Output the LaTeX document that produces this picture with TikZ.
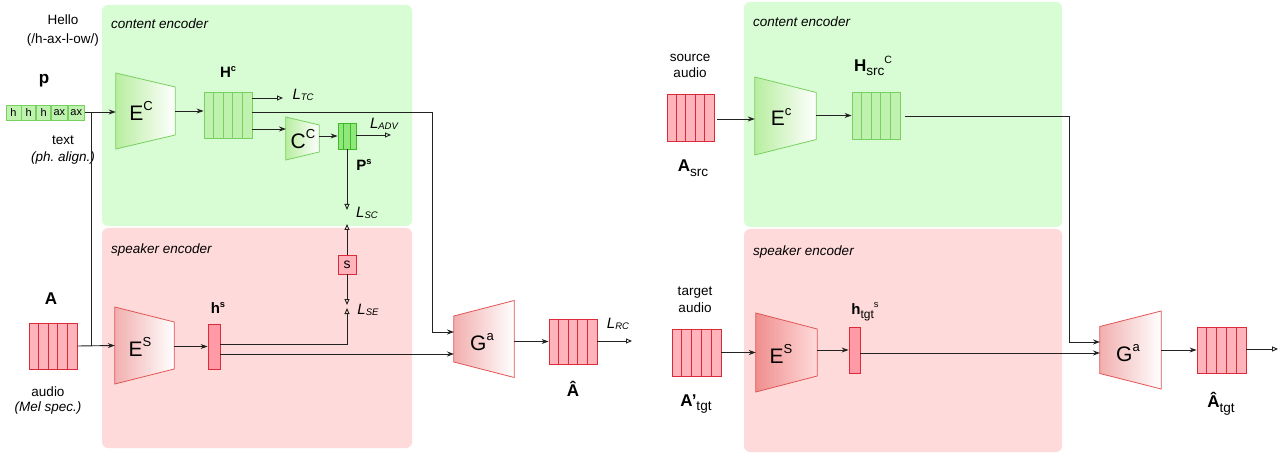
\documentclass[tikz,border=0pt]{standalone}
\usepackage{fontspec}
\setmainfont{Liberation Sans}
\usetikzlibrary{arrows.meta,calc}
\definecolor{gbg}{HTML}{D8FCD4}
\definecolor{pbg}{HTML}{FFDADA}
\definecolor{gfill}{HTML}{BFF2AE}
\definecolor{gline}{HTML}{78D060}
\definecolor{gfill2}{HTML}{8FE87A}
\definecolor{gline2}{HTML}{3FB82A}
\definecolor{gtrap}{HTML}{B8EEA0}
\definecolor{pfill}{HTML}{FFB3BB}
\definecolor{pfill2}{HTML}{FF9AA6}
\definecolor{pline}{HTML}{DD2A3A}
\definecolor{ptrap}{HTML}{F2AFAF}
\definecolor{ptrap2}{HTML}{F08E8E}
\definecolor{ptline}{HTML}{E05555}
\definecolor{lnc}{HTML}{222222}
\newcommand\mysup[1]{\raisebox{0.45em}{\scalebox{0.62}{#1}}}
\newcommand\mysub[1]{\raisebox{-0.28em}{\scalebox{0.8}{#1}}}
\newcommand\Lss[1]{\textit{L}{\fontsize{9.5}{10}\selectfont\itshape\raisebox{-1.5pt}{#1}}}
\newcommand\seqbox[7]{%
  \node[#7, minimum width=#4pt, minimum height=#5pt] (#1) at (#2,#3) {};
  \pgfmathtruncatemacro\nm{#6-1}%
  \foreach \i in {1,...,\nm}{\draw[#7, fill=none] ($(#1.north west)!\i/#6!(#1.north east)$) -- ($(#1.south west)!\i/#6!(#1.south east)$);}%
}
\newcommand\trap[9]{%
  \pgfmathsetmacro\hh{max(#5,#6)}%
  \node[minimum width=#4pt, minimum height=\hh pt] (#1) at (#2,#3) {};
  \shadedraw[left color=#7, right color=#8, draw=#9, line width=0.8pt] ($(#1.west)+(0,#5/2)$) -- ($(#1.east)+(0,#6/2)$) -- ($(#1.east)+(0,-#6/2)$) -- ($(#1.west)+(0,-#5/2)$) -- cycle;
}
\begin{document}
\begin{tikzpicture}[x=1pt,y=-1pt,
  every node/.style={inner sep=0pt, font=\fontsize{13.5}{15}\selectfont},
  ln/.style={draw=lnc, line width=0.9pt},
  arr/.style={ln, -{Stealth[length=7pt,width=5pt]}},
  oarr/.style={ln, -{Triangle[open,length=6pt,width=5pt]}},
  gbox/.style={draw=gline, fill=gfill, line width=0.8pt},
  gbox2/.style={draw=gline2, fill=gfill2, line width=0.8pt},
  pbox/.style={draw=pline, fill=pfill, line width=0.8pt},
  pbox2/.style={draw=pline, fill=pfill2, line width=0.8pt},
  ph/.style={gbox, minimum height=15pt, font=\fontsize{11}{12}\selectfont},
  big/.style={font=\bfseries\fontsize{17}{20}\selectfont},
  mid/.style={font=\bfseries\fontsize{15}{18}\selectfont},
  tl/.style={font=\fontsize{21}{23}\selectfont},
  rlab/.style={font=\itshape\fontsize{13.5}{15}\selectfont, anchor=west},
  loss/.style={font=\fontsize{15}{17}\selectfont}
]
\useasboundingbox (0,0) rectangle (1284,454);
% regions
\fill[gbg, rounded corners=6pt] (102,5) rectangle (412,226);
\fill[pbg, rounded corners=6pt] (102,228) rectangle (412,448);
\fill[gbg, rounded corners=6pt] (744,2) rectangle (1062,227);
\fill[pbg, rounded corners=6pt] (744,229) rectangle (1062,452);
\node[rlab] (lce) at (111,24) {content encoder};
\node[rlab] (lse) at (111,250) {speaker encoder};
\node[rlab] (rce) at (753,22) {content encoder};
\node[rlab] (rse) at (753,252) {speaker encoder};

% ===== left panel =====
\node (hello) at (63,20) {Hello};
\node (hellop) at (63,40) {(/h-ax-l-ow/)};
\node[big] (p) at (44,81) {p};
\node[ph, minimum width=15pt] (ph1) at (13.5,112.5) {h};
\node[ph, minimum width=14pt, anchor=west] (ph2) at (ph1.east) {h};
\node[ph, minimum width=14pt, anchor=west] (ph3) at (ph2.east) {h};
\node[ph, minimum width=16pt, anchor=west] (ph4) at (ph3.east) {ax};
\node[ph, minimum width=16pt, anchor=west] (ph5) at (ph4.east) {ax};
\node (text) at (63,140) {text};
\node[font=\itshape\fontsize{13.5}{15}\selectfont] (textp) at (63,158) {(ph.\ align.)};

\seqbox{A}{53}{346}{48}{46}{5}{pbox}
\node[big] (Alab) at (51,299) {A};
\node (audio) at (48,392) {audio};
\node[font=\itshape\fontsize{13.5}{15}\selectfont] (audiop) at (48,408) {(Mel spec.)};

\trap{Ec}{145.5}{111}{59}{76}{48}{gtrap}{white}{gline}
\node[tl] (EcL) at (141,111) {E\mysup{C}};
\seqbox{Hc}{228}{115}{48}{46}{5}{gbox}
\node[mid] (HcL) at (228,72) {H\mysup{c}};
\trap{Cc}{302.5}{138.5}{33}{43}{27}{gtrap}{white}{gline}
\node[tl] (CcL) at (303,139) {C\mysup{C}};
\seqbox{Ps}{347}{136}{18}{26}{3}{gbox2}
\node[mid] (PsL) at (364,165) {P\mysup{s}};
\node[pbox, minimum width=18pt, minimum height=19pt, font=\fontsize{14}{15}\selectfont] (s) at (347,264.5) {s};

\trap{Es}{144.5}{345.5}{59}{77}{47}{ptrap}{white}{ptline}
\node[tl] (EsL) at (140,347) {E\mysup{S}};
\node[pbox2, minimum width=12pt, minimum height=45pt] (hs) at (214,346.5) {};
\node[mid] (hsL) at (218,308) {h\mysup{s}};
\trap{Ga}{484}{339}{60}{46}{77}{ptrap}{white}{ptline}
\node[tl] (GaL) at (482,342) {G\mysup{a}};
\seqbox{Ah}{573}{341.5}{48}{45}{5}{pbox}
\node[big] (AhL) at (573,389) {\^{A}};

% losses
\node[loss] (LTC) at (303,95) {\Lss{TC}};
\node[loss] (LADV) at (384,124) {\Lss{ADV}};
\node[loss] (LSC) at (367,213) {\Lss{SC}};
\node[loss] (LSE) at (368,310) {\Lss{SE}};
\node[loss] (LRC) at (618,324) {\Lss{RC}};

% coordinates
\coordinate (j1) at (91,112);
\coordinate (ltc) at (283,98);
\coordinate (k1) at (432,112);
\coordinate (gin1) at (454,332);
\coordinate (gin2) at (454,354);
\coordinate (cin) at (286,129);
\coordinate (ladv) at (391,135);
\coordinate (lsc1) at (347,210);
\coordinate (lsc2) at (347,224);
\coordinate (lse1) at (347,305);
\coordinate (lse2) at (347,308);
\coordinate (hsj) at (347,344);
\coordinate (lrc) at (632,341);

% connectors left
\draw[arr] (ph5.east |- j1) -- (j1 -| Ec.west);
\draw[ln] (j1) -- (j1 |- A.east);
\draw[arr] (A.east) -- (Es.west);
\draw[arr] (Ec.east) -- (Ec.east -| Hc.west);
\draw[oarr] (ltc -| Hc.east) -- (ltc);
\draw[arr] (k1 -| Hc.east) -- (k1) |- (gin1);
\draw[arr] (cin -| Hc.east) -- (cin);
\draw[arr] (Ps.west -| Cc.east) -- (Ps.west);
\draw[oarr] (ladv -| Ps.east) -- (ladv);
\draw[oarr] (Ps.south) -- (lsc1);
\draw[oarr] (s.north) -- (lsc2);
\draw[oarr] (s.south) -- (lse1);
\draw[oarr] (hsj -| hs.east) -- (hsj) -- (lse2);
\draw[arr] (Es.east |- hs.west) -- (hs.west);
\draw[arr] (gin2 -| hs.east) -- (gin2);
\draw[arr] (Ga.east |- Ah.west) -- (Ah.west);
\draw[oarr] (lrc -| Ah.east) -- (lrc);

% ===== right panel =====
\node (srca1) at (690,58) {source};
\node (srca2) at (690,73) {audio};
\seqbox{As}{690.5}{117.5}{47}{47}{5}{pbox}
\node[big] (AsL) at (693,168) {A{\mdseries\mysub{src}}};
\trap{Ec2}{785.5}{116}{61}{78}{47}{gtrap}{white}{gline}
\node[tl] (Ec2L) at (781,117) {E\mysup{c}};
\seqbox{Hs}{876}{115.5}{48}{47}{5}{gbox}
\node[big] (HsL) at (873,66) {H{\mdseries\mysub{src}\mysup{C}}};

\node (tga1) at (695,293) {target};
\node (tga2) at (695,308) {audio};
\seqbox{At}{696.5}{352.5}{49}{47}{5}{pbox}
\node[big] (AtL) at (696,404) {A’{\mdseries\mysub{tgt}}};
\trap{Es2}{786.5}{352.5}{61}{79}{47}{ptrap2}{pbg}{ptline}
\node[tl] (Es2L) at (781,354) {E\mysup{S}};
\node[pbox2, minimum width=11pt, minimum height=46pt] (ht) at (854.5,350) {};
\node[mid] (htL) at (865,312) {h{\mdseries\mysub{tgt}\mysup{s}}};
\trap{Ga2}{1130.5}{350}{61}{47}{78}{ptrap}{white}{ptline}
\node[tl] (Ga2L) at (1128,353) {G\mysup{a}};
\seqbox{Ah2}{1221.5}{350}{49}{46}{5}{pbox}
\node[big] (Ah2L) at (1221,404) {\^{A}{\mdseries\mysub{tgt}}};

\coordinate (k2) at (1069,116);
\coordinate (gin3) at (1100,342);
\coordinate (gin4) at (1100,353);
\coordinate (outr) at (1278,349);

\draw[arr] ($(As.east)+(3,1.5)$) -- ($(As.east -| Ec2.west)+(0,1.5)$);
\draw[arr] (Ec2.east |- Hs.west) -- (Hs.west);
\draw[arr] ($(k2 -| Hs.east)+(5,0)$) -- (k2) |- (gin3);
\draw[arr] (At.east) -- (At.east -| Es2.west);
\draw[arr] (Es2.east |- ht.west) -- (ht.west);
\draw[arr] (gin4 -| ht.east) -- (gin4);
\draw[arr] (Ga2.east |- Ah2.west) -- (Ah2.west);
\draw[oarr] (outr -| Ah2.east) -- (outr);
\end{tikzpicture}
\end{document}
